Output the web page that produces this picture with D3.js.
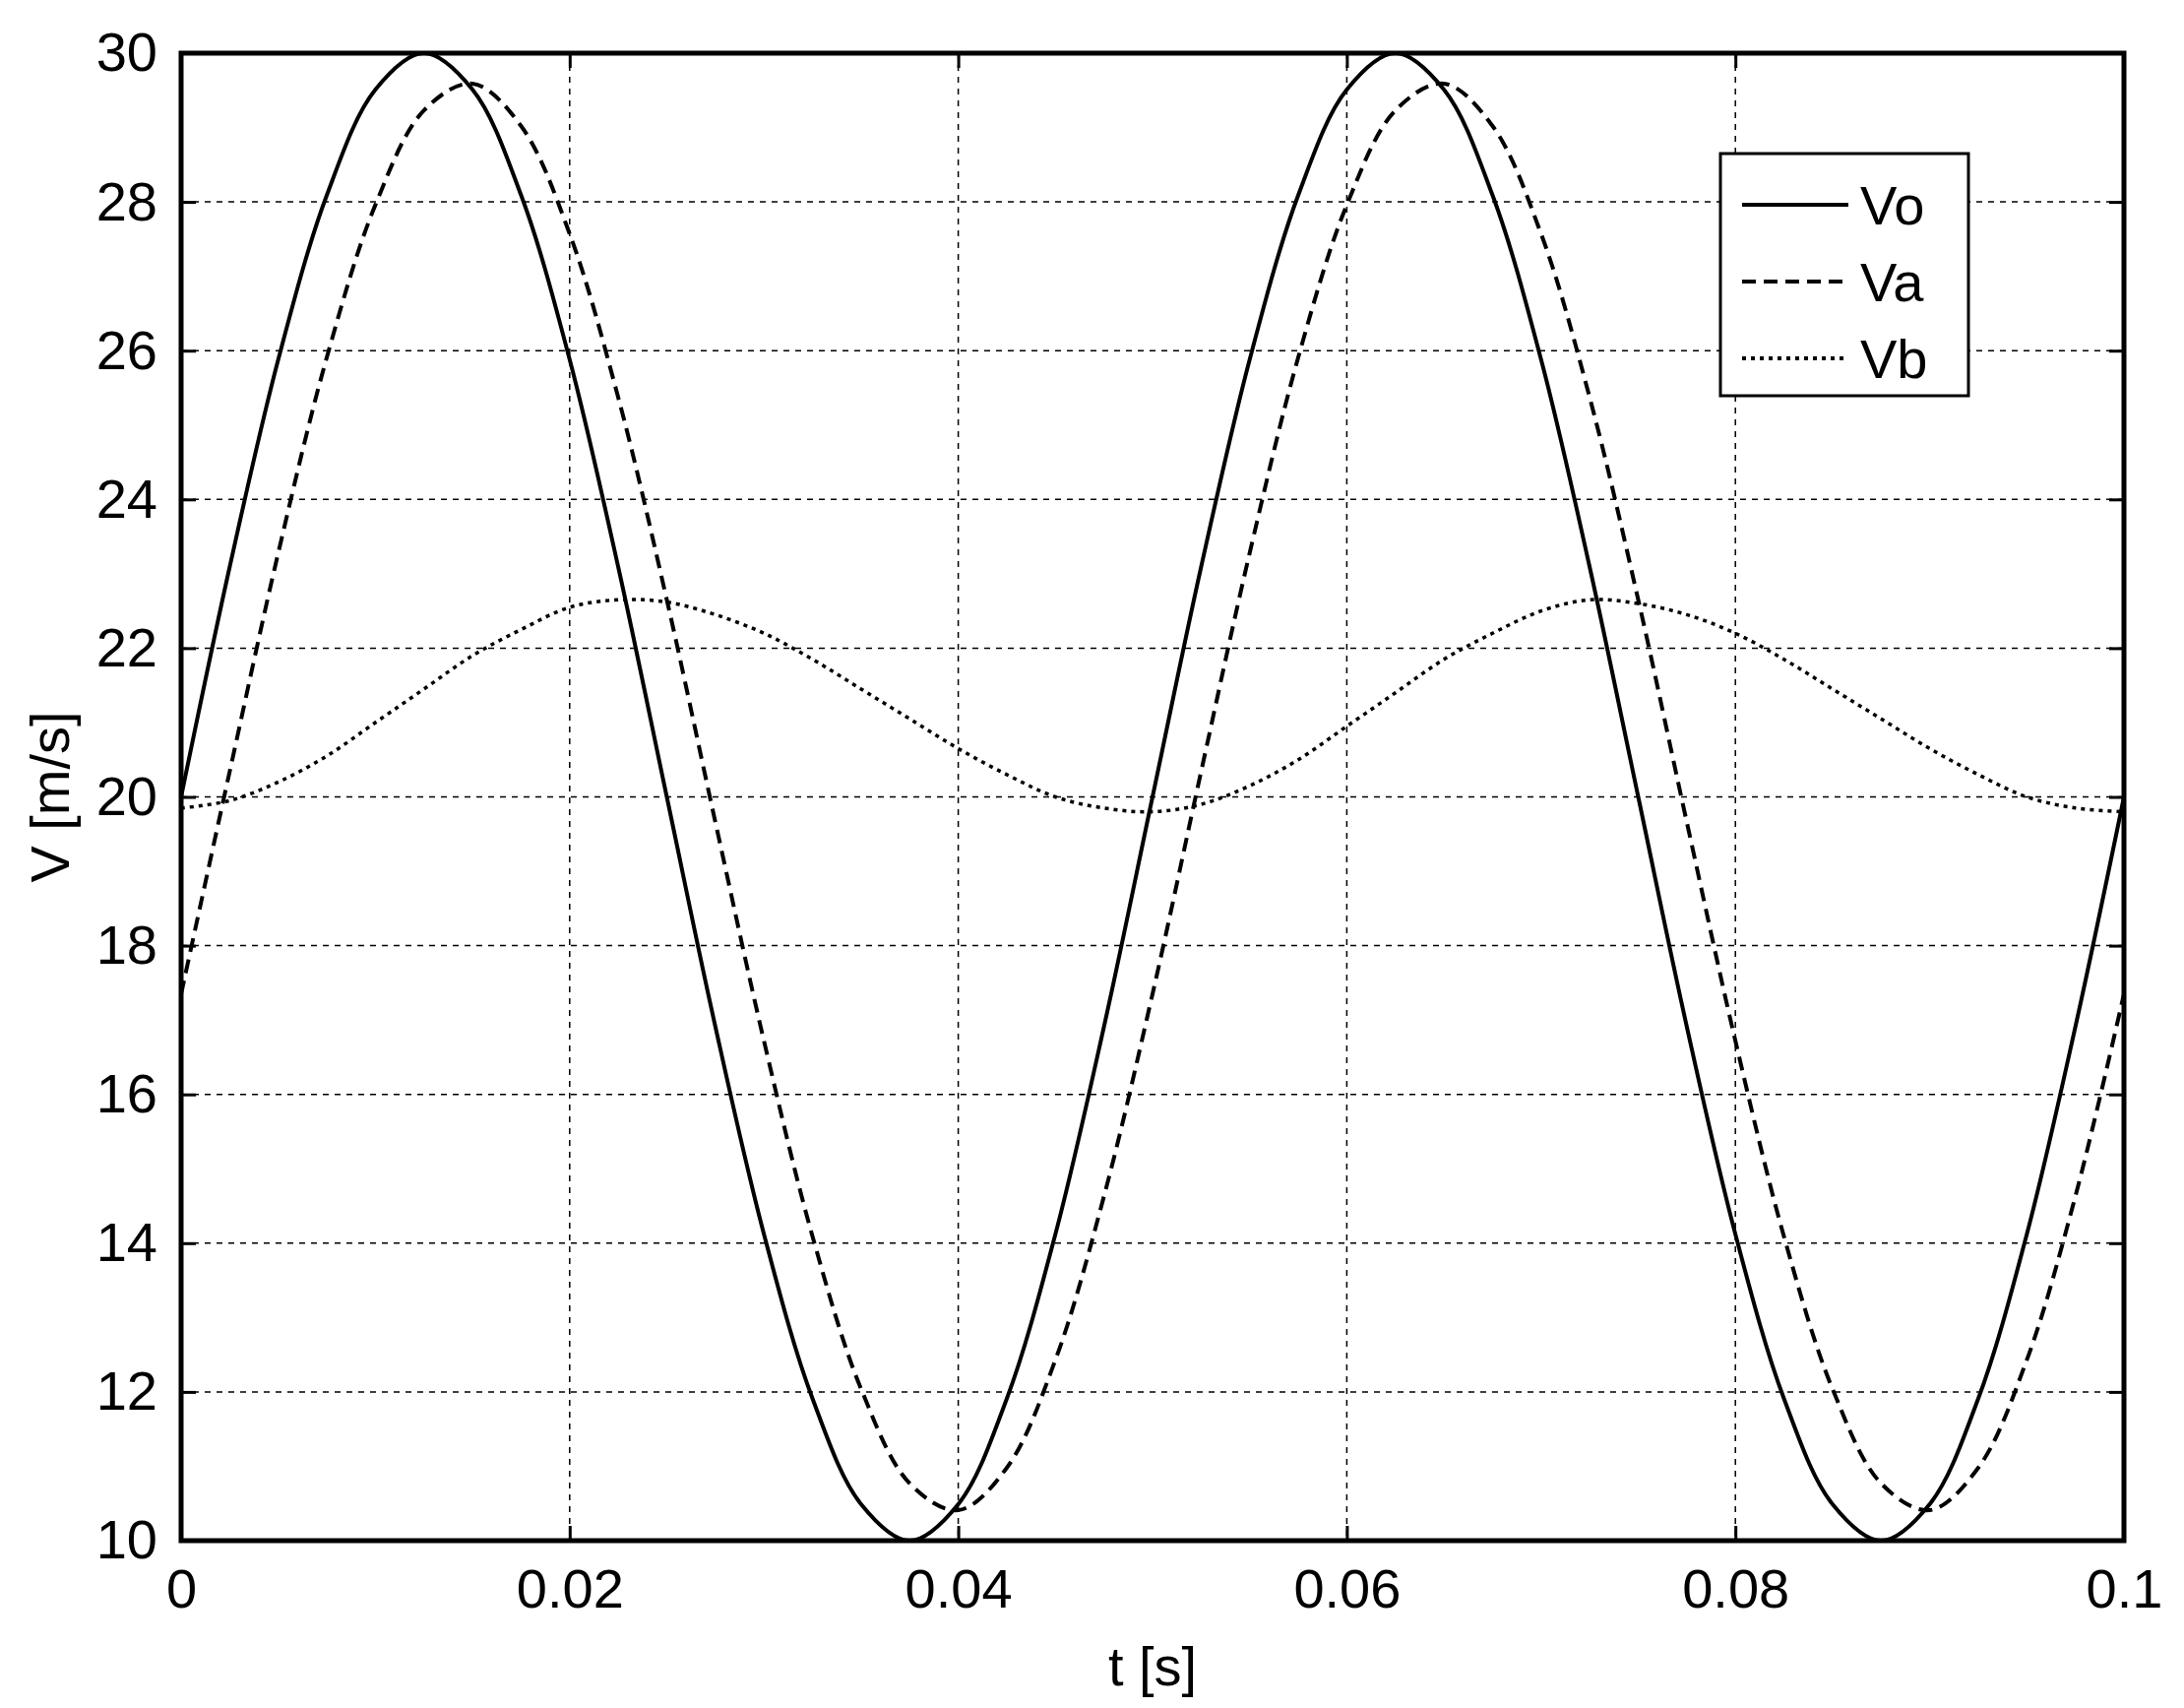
<!DOCTYPE html>
<html><head><meta charset="utf-8">
<script src="https://cdn.jsdelivr.net/npm/d3@7"></script>
<style>body{margin:0;background:#fff}</style>
</head><body><div id="chart"></div>
<script>
var times = d3.range(41).map(function(i){ return i * 0.0025; });
var vo = [20,23.09,25.88,28.09,29.51,30,29.51,28.09,25.88,23.09,20,16.91,14.12,11.91,10.49,10,10.49,11.91,14.12,16.91,
          20,23.09,25.88,28.09,29.51,30,29.51,28.09,25.88,23.09,20,16.91,14.12,11.91,10.49,10,10.49,11.91,14.12,16.91,20];
var va = [17.35,20.34,23.28,25.91,27.96,29.23,29.59,29.02,27.57,25.37,22.65,19.66,16.72,14.09,12.04,10.77,10.41,10.98,12.43,14.63,
          17.35,20.34,23.28,25.91,27.96,29.23,29.59,29.02,27.57,25.37,22.65,19.66,16.72,14.09,12.04,10.77,10.41,10.98,12.43,14.63,17.35];
var vb = [19.85,19.95,20.2,20.55,21.0,21.45,21.9,22.25,22.55,22.65,22.62,22.45,22.2,21.85,21.45,21.05,20.65,20.3,20.0,19.85,19.8,
          19.9,20.15,20.5,20.95,21.4,21.85,22.2,22.5,22.65,22.6,22.45,22.2,21.85,21.45,21.05,20.65,20.3,20.0,19.85,19.8];
var xTicks = [0,0.02,0.04,0.06,0.08,0.1];
var xTickLabels = ["0","0.02","0.04","0.06","0.08","0.1"];
var yTicks = [10,12,14,16,18,20,22,24,26,28,30];
var seriesNames = ["Vo","Va","Vb"];
var seriesDash = [null,"14,8","4,5"];

function init() {
  var width = 2219, height = 1735;
  var pLeft = 184, pTop = 54, pRight = 2158, pBottom = 1565;
  var svg = d3.select("#chart").append("svg").attr("width", width).attr("height", height)
    .style("font-family","'Liberation Sans', Arial, sans-serif");

  var xScale = d3.scaleLinear().domain([0,0.1]).range([pLeft,pRight]);
  var yScale = d3.scaleLinear().domain([10,30]).range([pBottom,pTop]);

  // grid
  svg.append("g").selectAll("line").data(xTicks.slice(1,-1)).enter().append("line")
    .attr("x1", function(d){return xScale(d);}).attr("x2", function(d){return xScale(d);})
    .attr("y1", pTop).attr("y2", pBottom).attr("stroke","#000").attr("stroke-width",1.5).attr("stroke-dasharray","6,6");
  svg.append("g").selectAll("line").data(yTicks.slice(1,-1)).enter().append("line")
    .attr("y1", function(d){return yScale(d);}).attr("y2", function(d){return yScale(d);})
    .attr("x1", pLeft).attr("x2", pRight).attr("stroke","#000").attr("stroke-width",1.5).attr("stroke-dasharray","6,6");

  // curves
  svg.append("clipPath").attr("id","c").append("rect")
    .attr("x",pLeft).attr("y",pTop-3).attr("width",pRight-pLeft).attr("height",pBottom-pTop+6);
  [vo,va,vb].forEach(function(s, k){
    var line = d3.line().curve(d3.curveCatmullRom)
      .x(function(d,i){return xScale(times[i]);}).y(function(d){return yScale(d);});
    svg.append("path").datum(s).attr("d", line).attr("fill","none").attr("stroke","#000")
      .attr("stroke-width", k==2 ? 3.5 : 4).attr("stroke-dasharray", seriesDash[k])
      .attr("clip-path","url(#c)");
  });

  // axes
  var xAxis = d3.axisBottom(xScale).tickValues(xTicks).tickSize(-15).tickPadding(28)
    .tickFormat(function(d,i){return xTickLabels[i];});
  var yAxis = d3.axisLeft(yScale).tickValues(yTicks).tickSize(-15).tickPadding(24);
  svg.append("g").attr("transform","translate(0,"+pBottom+")").call(xAxis);
  svg.append("g").attr("transform","translate("+pLeft+",0)").call(yAxis);
  svg.append("g").attr("transform","translate(0,"+pTop+")").call(d3.axisTop(xScale).tickValues(xTicks).tickSize(-15).tickFormat(""));
  svg.append("g").attr("transform","translate("+pRight+",0)").call(d3.axisRight(yScale).tickValues(yTicks).tickSize(-15).tickFormat(""));
  svg.selectAll(".domain").remove();
  svg.selectAll(".tick line").attr("stroke","#000").attr("stroke-width",3);
  svg.selectAll(".tick text").attr("font-size",56).attr("fill","#000");
  svg.append("rect").attr("x",pLeft).attr("y",pTop).attr("width",pRight-pLeft).attr("height",pBottom-pTop)
    .attr("fill","none").attr("stroke","#000").attr("stroke-width",5);

  svg.append("text").attr("x",(pLeft+pRight)/2).attr("y",1712).attr("text-anchor","middle")
    .attr("font-size",56).text("t [s]");
  svg.append("text").attr("transform","translate(70,"+((pTop+pBottom)/2)+") rotate(-90)")
    .attr("text-anchor","middle").attr("font-size",56).text("V [m/s]");

  // legend
  var lg = svg.append("g").attr("transform","translate(1748,156)");
  lg.append("rect").attr("width",252).attr("height",246).attr("fill","#fff").attr("stroke","#000").attr("stroke-width",3);
  seriesNames.forEach(function(n,k){
    var y = 52 + k*78;
    lg.append("line").attr("x1",22).attr("x2",130).attr("y1",y).attr("y2",y).attr("stroke","#000")
      .attr("stroke-width",4).attr("stroke-dasharray",seriesDash[k]);
    lg.append("text").attr("x",142).attr("y",y+20).attr("font-size",56).text(n);
  });
}
init();
</script></body></html>
